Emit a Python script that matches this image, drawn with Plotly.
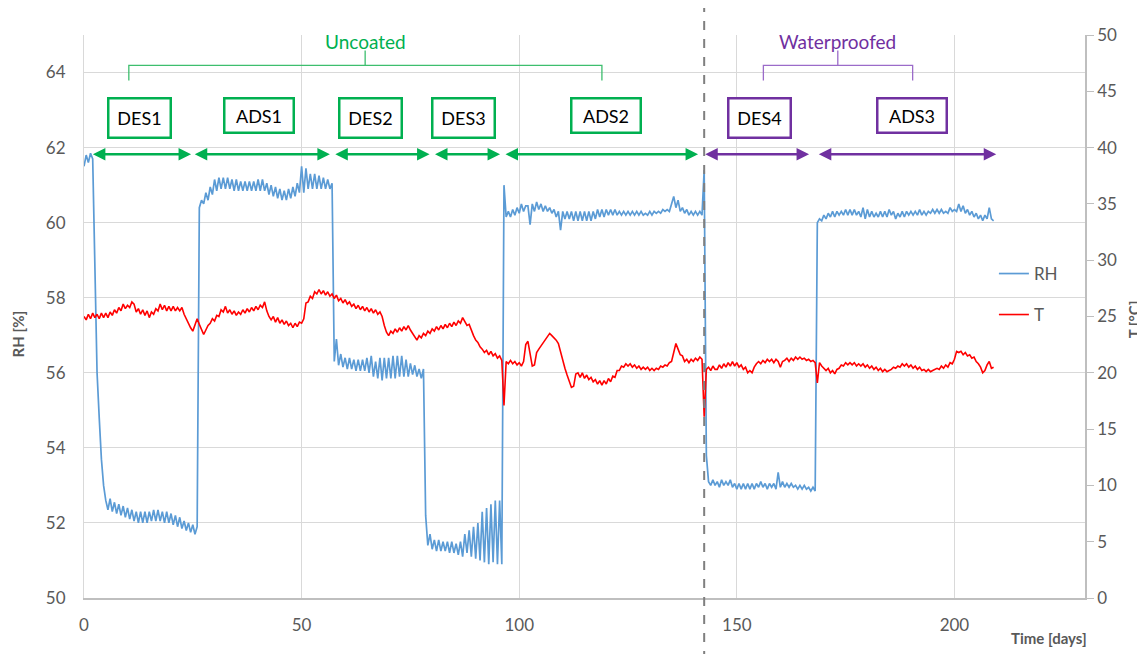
import plotly.graph_objects as go

# ---------------- data ----------------
STEP_DAYS = 0.5
# relative humidity [%], rows of (first day, values every 0.5 day)
rh_rows = [
    (0.0, [61.5, 61.8, 61.6, 61.85, 61.7, 58.8, 56.0, 54.8, 53.7, 53.0, 52.6]),
    (5.5, [52.35, 52.65, 52.3, 52.55, 52.25, 52.5, 52.2, 52.45, 52.15, 52.4]),
    (10.5, [52.1, 52.35, 52.05, 52.3, 52.0, 52.3, 52.0, 52.3, 52.0, 52.3]),
    (15.5, [52.05, 52.35, 52.05, 52.35, 52.05, 52.3, 52.0, 52.3, 52.0, 52.25]),
    (20.5, [51.95, 52.2, 51.9, 52.15, 51.85, 52.05, 51.8, 52.0, 51.75, 51.95]),
    (25.5, [51.7, 51.9, 60.4, 60.6, 60.5, 60.8, 60.6, 60.95, 60.75, 61.15]),
    (30.5, [60.85, 61.2, 60.9, 61.2, 60.9, 61.2, 60.9, 61.15, 60.85, 61.15]),
    (35.5, [60.85, 61.1, 60.85, 61.1, 60.85, 61.1, 60.85, 61.1, 60.85, 61.15]),
    (40.5, [60.85, 61.15, 60.85, 61.05, 60.75, 61.0, 60.7, 60.95, 60.65, 60.9]),
    (45.5, [60.6, 60.85, 60.6, 60.9, 60.65, 60.95, 60.7, 61.05, 60.8, 61.5]),
    (50.5, [60.8, 61.45, 60.9, 61.3, 60.9, 61.3, 60.9, 61.25, 60.9, 61.2]),
    (55.5, [60.9, 61.15, 60.9, 61.05, 56.3, 56.9, 56.2, 56.5, 56.15, 56.4]),
    (60.5, [56.1, 56.4, 56.1, 56.35, 56.05, 56.35, 56.05, 56.35, 56.05, 56.4]),
    (65.5, [56.0, 56.45, 55.9, 56.3, 55.85, 56.4, 55.8, 56.4, 55.85, 56.4]),
    (70.5, [55.85, 56.45, 55.85, 56.45, 55.9, 56.45, 55.9, 56.35, 55.9, 56.25]),
    (75.5, [55.95, 56.2, 55.9, 56.1, 55.85, 56.1, 52.2, 51.4, 51.7, 51.3]),
    (80.5, [51.55, 51.25, 51.55, 51.25, 51.5, 51.25, 51.5, 51.2, 51.5, 51.2]),
    (85.5, [51.45, 51.15, 51.5, 51.1, 51.7, 51.2, 51.8, 51.1, 51.9, 51.05]),
    (90.5, [52.0, 51.0, 52.3, 50.95, 52.4, 50.9, 52.5, 50.95, 52.6, 50.9]),
    (95.5, [52.6, 50.9, 61.0, 60.15, 60.3, 60.15, 60.35, 60.2, 60.4, 60.25]),
    (100.5, [60.5, 60.3, 60.45, 60.45, 59.95, 60.5, 60.3, 60.55, 60.35, 60.5]),
    (105.5, [60.3, 60.45, 60.3, 60.4, 60.25, 60.35, 60.15, 60.3, 59.8, 60.3]),
    (110.5, [60.1, 60.3, 60.1, 60.3, 60.05, 60.3, 60.05, 60.3, 60.05, 60.3]),
    (115.5, [60.05, 60.3, 60.05, 60.3, 60.1, 60.35, 60.15, 60.35, 60.15, 60.35]),
    (120.5, [60.2, 60.35, 60.2, 60.35, 60.2, 60.3, 60.2, 60.3, 60.2, 60.3]),
    (125.5, [60.2, 60.3, 60.2, 60.3, 60.2, 60.3, 60.2, 60.25, 60.2, 60.3]),
    (130.5, [60.2, 60.3, 60.25, 60.3, 60.25, 60.35, 60.3, 60.35, 60.3, 60.5]),
    (135.5, [60.7, 60.4, 60.6, 60.3, 60.4, 60.25, 60.35, 60.2, 60.3, 60.2]),
    (140.5, [60.3, 60.2, 60.3, 60.2, 61.4, 53.8, 53.1, 53.0, 53.15, 53.0]),
    (145.5, [53.1, 52.95, 53.15, 53.0, 53.1, 53.0, 53.15, 52.95, 53.05, 52.9]),
    (150.5, [53.05, 52.9, 53.05, 52.9, 53.05, 52.9, 53.05, 52.9, 53.05, 52.95]),
    (155.5, [53.1, 52.95, 53.05, 52.9, 53.05, 52.95, 53.05, 52.9, 53.35, 52.95]),
    (160.5, [53.1, 52.95, 53.05, 52.95, 53.05, 52.95, 53.0, 52.9, 53.0, 52.9]),
    (165.5, [53.0, 52.9, 52.95, 52.85, 52.95, 52.85, 60.0, 60.1, 60.05, 60.2]),
    (170.5, [60.1, 60.25, 60.15, 60.3, 60.15, 60.3, 60.2, 60.3, 60.2, 60.35]),
    (175.5, [60.2, 60.35, 60.2, 60.35, 60.2, 60.3, 60.15, 60.4, 60.1, 60.35]),
    (180.5, [60.15, 60.3, 60.15, 60.25, 60.15, 60.3, 60.15, 60.3, 60.15, 60.35]),
    (185.5, [60.2, 60.3, 60.1, 60.25, 60.15, 60.3, 60.15, 60.3, 60.2, 60.3]),
    (190.5, [60.2, 60.3, 60.2, 60.35, 60.2, 60.3, 60.2, 60.3, 60.25, 60.35]),
    (195.5, [60.25, 60.35, 60.25, 60.35, 60.25, 60.3, 60.25, 60.4, 60.3, 60.35]),
    (200.5, [60.3, 60.5, 60.3, 60.45, 60.25, 60.35, 60.2, 60.3, 60.15, 60.25]),
    (205.5, [60.1, 60.2, 60.05, 60.2, 60.1, 60.4, 60.1, 60.05]),
]

# temperature [°C], rows of (first day, values every 0.5 day)
t_rows = [
    (0.0, [25.0, 24.7, 25.2, 24.8, 25.3, 24.9, 25.2, 24.8, 25.3, 24.9, 25.3]),
    (5.5, [24.9, 25.4, 25.1, 25.6, 25.3, 25.8, 25.5, 26.1, 25.7, 26.0]),
    (10.5, [25.8, 26.3, 26.1, 25.4, 25.7, 25.2, 25.6, 25.1, 25.5, 24.9]),
    (15.5, [25.4, 25.2, 25.7, 25.5, 26.1, 25.6, 26.0, 25.5, 25.9, 25.5]),
    (20.5, [25.9, 25.5, 25.8, 25.5, 25.8, 25.2, 24.8, 24.3, 24.0, 23.7]),
    (25.5, [24.2, 24.8, 24.3, 23.8, 23.4, 23.8, 24.2, 24.4, 24.8, 24.6]),
    (30.5, [25.1, 25.0, 25.6, 25.4, 25.9, 25.3, 25.6, 25.2, 25.5, 25.1]),
    (35.5, [25.4, 25.2, 25.6, 25.3, 25.7, 25.4, 25.8, 25.5, 25.9, 25.6]),
    (40.5, [26.0, 25.8, 26.3, 25.5, 25.0, 24.7, 25.0, 24.5, 24.9, 24.4]),
    (45.5, [24.7, 24.3, 24.6, 24.2, 24.4, 24.0, 24.4, 24.1, 24.5, 24.4]),
    (50.5, [24.8, 26.2, 26.3, 26.8, 26.6, 27.2, 27.0, 27.4, 27.0, 27.3]),
    (55.5, [26.9, 27.2, 26.8, 27.0, 26.6, 26.9, 26.4, 26.6, 26.2, 26.5]),
    (60.5, [26.1, 26.3, 25.9, 26.1, 25.7, 26.0, 25.6, 25.9, 25.5, 25.8]),
    (65.5, [25.4, 25.7, 25.3, 25.6, 25.2, 25.4, 25.0, 24.2, 23.6, 23.3]),
    (70.5, [23.7, 23.5, 23.9, 23.6, 24.0, 23.7, 24.1, 23.8, 24.2, 23.8]),
    (75.5, [23.5, 23.2, 22.9, 23.3, 23.1, 23.5, 23.3, 23.7, 23.5, 23.9]),
    (80.5, [23.7, 24.1, 23.8, 24.2, 23.9, 24.3, 24.0, 24.4, 24.1, 24.5]),
    (85.5, [24.2, 24.6, 24.4, 24.9, 24.5, 24.2, 24.3, 23.7, 23.3, 22.9]),
    (90.5, [22.7, 22.3, 22.1, 21.8, 22.0, 21.6, 21.9, 21.5, 21.7, 21.3]),
    (95.5, [21.5, 21.1, 17.1, 21.0, 20.8, 21.1, 20.8, 21.0, 20.7, 20.9]),
    (100.5, [20.6, 21.0, 22.5, 22.8, 21.5, 20.6, 20.7, 21.8, 22.1, 22.4]),
    (105.5, [22.7, 23.0, 23.3, 23.5, 23.3, 23.1, 22.9, 22.6, 21.8, 21.0]),
    (110.5, [20.4, 19.8, 19.2, 18.7, 18.8, 19.9, 20.0, 19.6, 20.0, 19.5]),
    (115.5, [19.8, 19.4, 19.6, 19.2, 19.4, 19.0, 19.3, 18.9, 19.3, 19.0]),
    (120.5, [19.5, 19.2, 19.7, 19.6, 20.2, 20.2, 20.6, 20.5, 20.8, 20.6]),
    (125.5, [20.8, 20.5, 20.7, 20.4, 20.6, 20.3, 20.5, 20.3, 20.5, 20.2]),
    (130.5, [20.4, 20.2, 20.4, 20.3, 20.6, 20.5, 20.7, 20.6, 20.9, 21.0]),
    (135.5, [21.8, 22.6, 22.1, 21.6, 21.5, 21.0, 21.2, 20.9, 21.2, 21.0]),
    (140.5, [21.3, 21.1, 21.4, 21.2, 16.1, 20.3, 20.5, 20.2, 20.6, 20.3]),
    (145.5, [20.3, 20.7, 20.4, 20.8, 20.5, 20.9, 20.6, 21.0, 20.6, 20.9]),
    (150.5, [20.5, 20.7, 20.3, 20.5, 20.0, 20.2, 20.0, 20.5, 20.8, 21.0]),
    (155.5, [20.8, 21.1, 20.9, 21.2, 21.0, 21.2, 20.9, 21.2, 21.0, 20.5]),
    (160.5, [21.0, 21.1, 21.3, 21.0, 21.3, 21.1, 21.4, 21.2, 21.4, 21.2]),
    (165.5, [21.3, 21.1, 21.2, 21.0, 21.1, 20.9, 19.1, 20.9, 20.6, 20.4]),
    (170.5, [20.2, 20.4, 20.0, 20.2, 19.9, 20.3, 20.4, 20.7, 20.6, 20.9]),
    (175.5, [20.7, 20.9, 20.7, 20.9, 20.6, 20.8, 20.6, 20.8, 20.5, 20.7]),
    (180.5, [20.4, 20.6, 20.3, 20.5, 20.2, 20.4, 20.1, 20.3, 20.1, 20.2]),
    (185.5, [20.3, 20.5, 20.4, 20.6, 20.5, 20.8, 20.6, 20.8, 20.5, 20.7]),
    (190.5, [20.4, 20.6, 20.3, 20.5, 20.2, 20.3, 20.1, 20.3, 20.1, 20.2]),
    (195.5, [20.3, 20.4, 20.3, 20.6, 20.4, 20.7, 20.5, 20.9, 20.8, 21.2]),
    (200.5, [21.9, 21.8, 21.9, 21.6, 21.8, 21.5, 21.6, 21.3, 21.4, 21.0]),
    (205.5, [20.8, 20.5, 20.0, 20.2, 20.7, 21.0, 20.4, 20.5]),
]

# test phases
phase_names = ["DES1", "ADS1", "DES2", "DES3", "ADS2", "DES4", "ADS3"]
phase_start = [1.7, 25.1, 57.4, 80.3, 96.5, 142.4, 168.5]
phase_end = [24.6, 56.5, 79.4, 95.6, 141.1, 166.6, 209.6]
phase_label_day = [12.8, 40.2, 65.9, 87.2, 120.0, 155.1, 190.3]
phase_group = [0, 0, 0, 0, 0, 1, 1]

group_names = ["Uncoated", "Waterproofed"]
group_start = [10.3, 156.1]
group_end = [119.0, 190.4]
group_mid = [64.6, 173.2]
group_colors = ["#00B050", "#7030A0"]
group_bracket_colors = ["#3DBE6E", "#9B6BC9"]

coating_change_day = 142.5

x_ticks = [0, 50, 100, 150, 200]
rh_ticks = [50, 52, 54, 56, 58, 60, 62, 64]
t_ticks = [0, 5, 10, 15, 20, 25, 30, 35, 40, 45, 50]


def expand(rows):
    xs, ys = [], []
    for start, vals in rows:
        for i, v in enumerate(vals):
            xs.append(start + i * STEP_DAYS)
            ys.append(v)
    return xs, ys


rh_x, rh_y = expand(rh_rows)
t_x, t_y = expand(t_rows)

GRAY = "#595959"
FONT = "Lato"

fig = go.Figure()
fig.add_trace(go.Scatter(x=rh_x, y=rh_y, mode="lines", name="RH",
                         line=dict(color="#5B9BD5", width=1.7), legend="legend"))
fig.add_trace(go.Scatter(x=t_x, y=t_y, mode="lines", name="T", yaxis="y2",
                         line=dict(color="#FF0000", width=1.6), legend="legend2"))

# positions for annotation rows (in RH units)
Y_ARROW = 61.82
Y_BOX_TOP = 63.34
Y_BAR = 64.19
Y_TICK = 63.79
Y_TOP = 64.59
Y_GROUP_TEXT = 64.83

annotations = []
shapes = []
for name, s, e, c, g in zip(phase_names, phase_start, phase_end, phase_label_day, phase_group):
    col = group_colors[g]
    is_des = name.startswith("DES")
    annotations.append(dict(
        x=c, y=Y_BOX_TOP, xref="x", yref="y", yanchor="top", xanchor="center",
        text=name, showarrow=False, font=dict(family=FONT, size=18, color="#000000"),
        bordercolor=col, borderwidth=2.5, borderpad=0,
        width=60 if is_des else 67, height=37 if is_des else 32, bgcolor="white"))
    annotations.append(dict(
        x=e, y=Y_ARROW, ax=s, ay=Y_ARROW, xref="x", yref="y", axref="x", ayref="y",
        text="", showarrow=True, arrowside="end+start", arrowhead=2, startarrowhead=2,
        arrowsize=1, startarrowsize=1, arrowwidth=2.5, arrowcolor=col, standoff=0, startstandoff=0))

for i, gname in enumerate(group_names):
    s, e, m = group_start[i], group_end[i], group_mid[i]
    shapes.append(dict(type="path", xref="x", yref="y",
                       path=f"M {s},{Y_TICK} L {s},{Y_BAR} L {e},{Y_BAR} L {e},{Y_TICK} M {m},{Y_BAR} L {m},{Y_TOP}",
                       line=dict(color=group_bracket_colors[i], width=1.3)))
    annotations.append(dict(x=m, y=Y_GROUP_TEXT, xref="x", yref="y", text=gname, showarrow=False,
                            font=dict(family=FONT, size=19, color=group_colors[i]),
                            xanchor="center", yanchor="middle"))

shapes.append(dict(type="line", xref="x", yref="paper", x0=coating_change_day, x1=coating_change_day,
                   y0=-0.11, y1=1.07, line=dict(color="#7F7F7F", width=2, dash="dash")))

# axis titles
annotations.append(dict(x=1.0035, y=-0.071, xref="paper", yref="paper", text="<b>Time [days]</b>",
                        showarrow=False, xanchor="right", yanchor="middle",
                        font=dict(family=FONT, size=15, color=GRAY)))
annotations.append(dict(x=-0.0655, y=0.469, xref="paper", yref="paper", text="<b>RH [%]</b>",
                        showarrow=False, textangle=-90, xanchor="center", yanchor="middle",
                        font=dict(family=FONT, size=15, color=GRAY)))
annotations.append(dict(x=1.049, y=0.495, xref="paper", yref="paper", text="<b>T [°C]</b>",
                        showarrow=False, textangle=-90, xanchor="center", yanchor="middle",
                        font=dict(family=FONT, size=15, color=GRAY)))

# the page body adds an 8 px offset, so the figure is 8 px smaller on each side
fig.update_layout(
    width=1137, height=646,
    margin=dict(l=76, r=60, t=27, b=56, autoexpand=False),
    paper_bgcolor="white", plot_bgcolor="white",
    font=dict(family=FONT, color=GRAY),
    showlegend=True,
    xaxis=dict(range=[0, 230], tickvals=x_ticks, showgrid=True, gridcolor="#D9D9D9", gridwidth=1,
               zeroline=False, showline=True, linecolor="#BFBFBF", linewidth=1.5, automargin=False,
               ticks="outside", ticklen=11, tickcolor="rgba(0,0,0,0)",
               tickfont=dict(family=FONT, size=17, color=GRAY)),
    yaxis=dict(range=[50, 65], tickvals=rh_ticks, showgrid=True, gridcolor="#D9D9D9", gridwidth=1,
               zeroline=False, showline=True, linecolor="#D9D9D9", automargin=False,
               ticks="outside", ticklen=14, tickcolor="rgba(0,0,0,0)",
               tickfont=dict(family=FONT, size=17, color=GRAY)),
    yaxis2=dict(range=[0, 50], tickvals=t_ticks, overlaying="y", side="right", showgrid=False,
                zeroline=False, showline=True, linecolor="#BFBFBF", linewidth=1.5, automargin=False,
                ticks="outside", ticklen=7, tickcolor="#BFBFBF",
                tickfont=dict(family=FONT, size=17, color=GRAY)),
    legend=dict(x=0.909, y=0.5755, xanchor="left", yanchor="middle", bgcolor="rgba(0,0,0,0)",
                font=dict(family=FONT, size=17, color=GRAY)),
    legend2=dict(x=0.909, y=0.5027, xanchor="left", yanchor="middle", bgcolor="rgba(0,0,0,0)",
                 font=dict(family=FONT, size=17, color=GRAY)),
    annotations=annotations,
    shapes=shapes,
)

fig.write_html("out.html")
